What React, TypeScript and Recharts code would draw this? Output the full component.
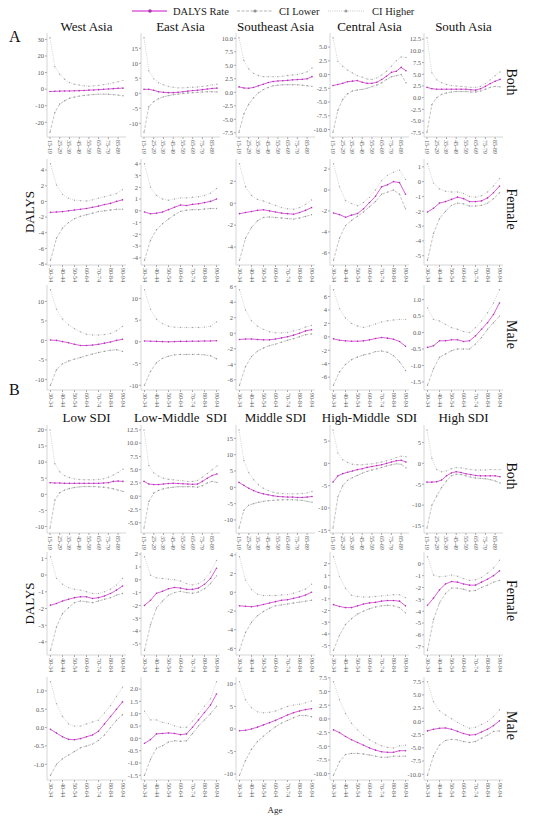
import React from 'react';
import { LineChart, Line, XAxis, YAxis } from 'recharts';

const SERIF = '"Liberation Serif", "DejaVu Serif", serif';

// ---------- categories / labels ----------
const agesBoth = ['15-19','20-24','25-29','30-34','35-39','40-44','45-49','50-54','55-59','60-64','65-69','70-74','75-79','80-84','85-89','90-94'];
const agesSex = ['30-34','35-39','40-44','45-49','50-54','55-59','60-64','65-69','70-74','75-79','80-84','85-89','90-94'];
const ticksBoth = ['15-19','25-29','35-39','45-49','55-59','65-69','75-79','85-89'];
const ticksSex = ['30-34','40-44','50-54','60-64','70-74','80-84','90-94'];

const regionTitles = ['West Asia','East Asia','Southeast Asia','Central Asia','South Asia'];
const sdiTitles = ['Low SDI','Low-Middle  SDI','Middle SDI','High-Middle  SDI','High SDI'];
const sexLabels = ['Both','Female','Male'];
const legendLabels = ['DALYS Rate','CI Lower','CI Higher'];

// ---------- A: regions, Both ----------
const westAsiaBothRate = [-1.4,-1.3,-1.2,-1.1,-1.1,-1.0,-0.9,-0.8,-0.6,-0.5,-0.3,-0.1,0.1,0.3,0.5,0.6];
const westAsiaBothLower = [-26,-14,-9,-7,-5.5,-4.8,-4.2,-3.8,-3.5,-3.2,-3.0,-3.0,-3.1,-3.3,-3.6,-4.0];
const westAsiaBothUpper = [31,13.5,9,6,4,3,2.5,2,1.8,2,2.3,2.7,3.2,3.8,4.5,5.3];
const eastAsiaBothRate = [1.3,1.3,1.0,0.5,0.3,0.2,0.2,0.3,0.5,0.7,0.9,1.0,1.2,1.4,1.6,1.7];
const eastAsiaBothLower = [-13,-4.5,-2.8,-1.8,-1.2,-0.8,-0.5,-0.3,-0.1,0.1,0.2,0.3,0.4,0.5,0.5,0.4];
const eastAsiaBothUpper = [18.5,7.5,4.8,3.5,2.8,2.3,2.0,1.8,1.8,1.9,2.0,2.1,2.3,2.5,2.8,3.0];
const seAsiaBothRate = [1.0,0.8,0.75,0.9,1.2,1.5,1.8,2.0,2.1,2.15,2.2,2.3,2.35,2.4,2.5,2.9];
const seAsiaBothLower = [-7.4,-4,-2.2,-1,-0.1,0.5,0.9,1.2,1.3,1.4,1.4,1.4,1.4,1.3,1.2,1.1];
const seAsiaBothUpper = [10.1,5.9,4.3,3.5,3.1,2.9,2.9,2.9,2.9,3.0,3.1,3.2,3.3,3.5,3.8,4.5];
const centralAsiaBothRate = [-2.0,-1.8,-1.6,-1.3,-1.2,-1.1,-1.4,-1.6,-1.6,-1.4,-0.9,-0.3,0.4,0.6,1.3,0.7];
const centralAsiaBothLower = [-10.5,-6.5,-4.5,-3.5,-3.0,-2.8,-2.7,-2.5,-2.2,-1.9,-1.5,-0.9,-0.4,-0.2,0.0,-1.5];
const centralAsiaBothUpper = [6.7,2.4,1.5,0.8,0.3,-0.2,-0.5,-0.8,-0.9,-0.6,-0.1,0.6,1.5,2.5,3.2,3.1];
const southAsiaBothRate = [2.2,1.9,1.8,1.8,1.8,1.8,1.8,1.8,1.8,1.7,1.6,1.9,2.4,3.0,3.5,3.9];
const southAsiaBothLower = [-7.4,-1.5,0,0.7,1.0,1.2,1.3,1.3,1.3,1.2,1.2,1.4,1.8,2.2,2.4,2.3];
const southAsiaBothUpper = [12.8,5.3,3.8,3.2,2.8,2.6,2.5,2.4,2.3,2.2,2.2,2.4,3.0,3.8,4.7,5.5];

// ---------- A: regions, Female ----------
const westAsiaFemaleRate = [-1.4,-1.35,-1.3,-1.2,-1.1,-1.0,-0.9,-0.75,-0.6,-0.4,-0.25,0.0,0.2];
const westAsiaFemaleLower = [-7.5,-4.7,-3.4,-2.7,-2.2,-1.9,-1.7,-1.5,-1.3,-1.2,-1.1,-1.0,-1.0];
const westAsiaFemaleUpper = [4.8,2.1,0.9,0.4,0.15,0.1,0.05,0.2,0.4,0.6,0.8,1.0,1.5];
const eastAsiaFemaleRate = [-0.1,-0.25,-0.2,-0.1,0.1,0.3,0.5,0.45,0.55,0.6,0.7,0.8,1.0];
const eastAsiaFemaleLower = [-4.2,-2.5,-1.6,-1.1,-0.7,-0.35,-0.05,0.05,0.1,0.1,0.15,0.2,0.2];
const eastAsiaFemaleUpper = [4.0,2.0,1.3,1.0,0.9,1.0,1.1,1.1,1.15,1.2,1.3,1.5,1.9];
const seAsiaFemaleRate = [-0.95,-0.85,-0.75,-0.65,-0.6,-0.7,-0.8,-0.9,-0.95,-1.0,-0.85,-0.65,-0.4];
const seAsiaFemaleLower = [-5.2,-3.2,-2.2,-1.6,-1.3,-1.25,-1.3,-1.35,-1.4,-1.45,-1.35,-1.2,-1.05];
const seAsiaFemaleUpper = [3.6,1.5,0.7,0.35,0.2,0.0,-0.2,-0.4,-0.5,-0.55,-0.4,-0.1,0.3];
const centralAsiaFemaleRate = [-2.2,-2.35,-2.6,-2.4,-2.25,-1.8,-1.2,-0.6,0.3,0.5,0.8,0.7,-0.4];
const centralAsiaFemaleLower = [-6.7,-4.6,-3.4,-2.9,-2.5,-2.1,-1.6,-1.1,-0.4,-0.2,0.0,-0.4,-1.8];
const centralAsiaFemaleUpper = [2.5,0.3,-1.0,-1.3,-1.5,-1.2,-0.7,0.0,0.9,1.4,1.7,1.9,1.0];
const southAsiaFemaleRate = [-2.05,-1.8,-1.45,-1.35,-1.2,-1.05,-1.15,-1.35,-1.35,-1.3,-1.1,-0.75,-0.3];
const southAsiaFemaleLower = [-5.3,-3.5,-2.5,-2.0,-1.6,-1.45,-1.5,-1.65,-1.65,-1.6,-1.45,-1.15,-0.75];
const southAsiaFemaleUpper = [1.2,-0.1,-0.5,-0.65,-0.7,-0.7,-0.8,-1.0,-1.05,-0.95,-0.7,-0.3,0.2];

// ---------- A: regions, Male ----------
const westAsiaMaleRate = [0.1,0.0,-0.3,-0.6,-1.0,-1.3,-1.3,-1.2,-1.0,-0.7,-0.4,0.0,0.3];
const westAsiaMaleLower = [-11.5,-7.5,-6,-5.3,-4.8,-4.4,-3.9,-3.5,-3.1,-2.8,-2.5,-2.4,-2.8];
const westAsiaMaleUpper = [13,8,5.5,4.0,3.0,2.2,1.6,1.4,1.4,1.5,1.8,2.5,3.6];
const eastAsiaMaleRate = [0.2,0.15,0.1,0.05,0.0,0.05,0.1,0.1,0.15,0.15,0.2,0.2,0.25];
const eastAsiaMaleLower = [-10,-6.8,-4.8,-3.8,-3.3,-3.0,-2.9,-2.9,-2.9,-2.9,-3.0,-3.2,-3.9];
const eastAsiaMaleUpper = [12,7.5,5.2,4.2,3.6,3.4,3.3,3.3,3.3,3.3,3.4,3.6,4.6];
const seAsiaMaleRate = [-0.8,-0.75,-0.75,-0.8,-0.85,-0.85,-0.75,-0.6,-0.45,-0.25,0.0,0.3,0.45];
const seAsiaMaleLower = [-6.7,-4.3,-3.0,-2.3,-1.9,-1.6,-1.4,-1.15,-0.9,-0.7,-0.45,-0.2,-0.1];
const seAsiaMaleUpper = [5.6,3.0,1.6,0.9,0.5,0.2,0.05,0.05,0.1,0.3,0.5,0.8,1.0];
const centralAsiaMaleRate = [-0.3,-0.5,-0.6,-0.65,-0.65,-0.6,-0.45,-0.25,-0.1,-0.2,-0.35,-0.7,-1.4];
const centralAsiaMaleLower = [-7.2,-5.2,-4.1,-3.4,-3.0,-2.7,-2.5,-2.2,-2.1,-2.3,-2.8,-3.7,-5.0];
const centralAsiaMaleUpper = [7,4.2,2.8,2.0,1.6,1.4,1.6,1.9,2.2,2.4,2.5,2.6,2.6];
const southAsiaMaleRate = [-0.45,-0.4,-0.25,-0.25,-0.22,-0.22,-0.27,-0.25,-0.1,0.1,0.3,0.55,0.9];
const southAsiaMaleLower = [-1.6,-1.1,-0.75,-0.65,-0.55,-0.5,-0.5,-0.5,-0.35,-0.15,0.1,0.3,0.5];
const southAsiaMaleUpper = [0.75,0.4,0.35,0.25,0.15,0.1,0.03,0.0,0.15,0.35,0.6,0.9,1.3];

// ---------- B: SDI, Both ----------
const lowBothRate = [3.6,3.5,3.5,3.4,3.4,3.4,3.4,3.4,3.4,3.4,3.4,3.5,3.6,4.0,4.1,4.0];
const lowBothLower = [-10.5,-1.8,0.5,1.3,1.8,2.1,2.3,2.4,2.4,2.4,2.3,2.2,2.0,1.7,1.3,0.9];
const lowBothUpper = [20,9.5,7.0,5.8,5.2,4.8,4.6,4.5,4.5,4.5,4.6,4.8,5.3,6.0,6.8,7.8];
const lowMidBothRate = [2.8,2.3,2.2,2.2,2.3,2.4,2.45,2.4,2.35,2.3,2.25,2.3,2.8,3.4,3.9,4.2];
const lowMidBothLower = [-6.0,-1.0,0.6,1.1,1.4,1.6,1.7,1.8,1.8,1.8,1.8,1.7,2.0,2.5,2.8,2.6];
const lowMidBothUpper = [12.5,5.8,4.4,3.8,3.4,3.2,3.1,3.0,2.9,2.8,2.8,3.0,3.6,4.3,5.0,5.7];
const midBothRate = [1.5,0.6,-0.3,-1.0,-1.6,-2.0,-2.3,-2.6,-2.8,-2.9,-3.0,-3.0,-3.1,-3.1,-3.0,-2.8];
const midBothLower = [-12.5,-7.0,-5.5,-5.0,-4.6,-4.3,-4.1,-4.0,-3.9,-3.8,-3.8,-3.8,-3.9,-4.0,-4.3,-4.6];
const midBothUpper = [17.6,8.2,4.5,2.3,0.8,-0.3,-1.0,-1.5,-1.8,-1.9,-2.0,-2.0,-2.0,-1.9,-1.7,-1.3];
const highMidBothRate = [-4.2,-2.8,-2.3,-2.0,-1.7,-1.4,-1.2,-0.9,-0.7,-0.5,-0.3,0.0,0.3,0.6,0.7,0.3];
const highMidBothLower = [-14.5,-7.5,-5.0,-3.8,-3.2,-2.7,-2.2,-1.8,-1.5,-1.2,-0.9,-0.6,-0.3,-0.1,-0.2,-1.0];
const highMidBothUpper = [7.5,2.3,0.8,0.2,-0.2,-0.3,-0.3,-0.2,-0.1,0.1,0.3,0.6,0.9,1.3,1.6,1.5];
const highBothRate = [-4.5,-4.5,-4.4,-4.0,-3.0,-2.3,-2.0,-2.2,-2.5,-2.7,-2.9,-3.0,-3.0,-3.0,-3.0,-3.2];
const highBothLower = [-15.5,-10,-7.8,-5.8,-4.2,-3.0,-2.6,-2.7,-3.0,-3.3,-3.5,-3.6,-3.7,-3.9,-4.2,-4.7];
const highBothUpper = [8,1.2,-1.5,-2.0,-1.8,-1.3,-1.0,-1.1,-1.3,-1.5,-1.6,-1.6,-1.6,-1.5,-1.5,-1.5];

// ---------- B: SDI, Female ----------
const lowFemaleRate = [-1.8,-1.7,-1.55,-1.45,-1.35,-1.3,-1.3,-1.4,-1.35,-1.25,-1.1,-0.9,-0.65];
const lowFemaleLower = [-4.5,-3.1,-2.3,-1.95,-1.65,-1.55,-1.6,-1.65,-1.55,-1.45,-1.35,-1.2,-1.1];
const lowFemaleUpper = [1.1,-0.2,-0.55,-0.75,-0.85,-0.9,-1.0,-1.1,-1.1,-1.0,-0.85,-0.6,-0.2];
const lowMidFemaleRate = [-2.0,-1.6,-1.05,-0.9,-0.7,-0.6,-0.65,-0.75,-0.75,-0.65,-0.35,0.1,0.9];
const lowMidFemaleLower = [-5.5,-3.5,-2.2,-1.65,-1.2,-1.0,-0.9,-1.0,-1.05,-0.95,-0.7,-0.3,0.3];
const lowMidFemaleUpper = [1.8,0.35,0.15,0.1,0.05,0.0,-0.1,-0.3,-0.4,-0.3,0.0,0.6,1.5];
const midFemaleRate = [-1.45,-1.5,-1.55,-1.45,-1.3,-1.15,-1.0,-0.85,-0.8,-0.65,-0.5,-0.3,0.0];
const midFemaleLower = [-6.2,-4.3,-3.2,-2.5,-2.05,-1.7,-1.45,-1.35,-1.25,-1.15,-1.05,-0.95,-0.85];
const midFemaleUpper = [3.8,1.3,0.3,-0.2,-0.35,-0.35,-0.35,-0.3,-0.25,-0.1,0.1,0.35,0.85];
const highMidFemaleRate = [-1.5,-1.65,-1.75,-1.75,-1.6,-1.45,-1.35,-1.3,-1.2,-1.15,-1.15,-1.2,-1.6];
const highMidFemaleLower = [-5.4,-4.1,-3.2,-2.7,-2.3,-2.05,-1.85,-1.7,-1.6,-1.55,-1.6,-1.75,-2.2];
const highMidFemaleUpper = [2.6,0.9,-0.1,-0.7,-0.8,-0.85,-0.85,-0.8,-0.75,-0.7,-0.65,-0.65,-0.9];
const highFemaleRate = [-3.5,-2.9,-2.2,-1.7,-1.5,-1.55,-1.7,-1.8,-1.8,-1.55,-1.3,-1.0,-0.6];
const highFemaleLower = [-7.3,-4.7,-3.3,-2.5,-2.05,-2.05,-2.15,-2.3,-2.25,-2.0,-1.8,-1.55,-1.4];
const highFemaleUpper = [0.6,-0.95,-1.1,-1.05,-0.95,-1.05,-1.25,-1.4,-1.35,-1.15,-0.8,-0.35,0.3];

// ---------- B: SDI, Male ----------
const lowMaleRate = [-0.05,-0.15,-0.25,-0.32,-0.33,-0.3,-0.25,-0.2,-0.1,0.1,0.3,0.5,0.7];
const lowMaleLower = [-1.3,-1.0,-0.85,-0.75,-0.65,-0.55,-0.5,-0.45,-0.35,-0.2,0.0,0.2,0.35];
const lowMaleUpper = [1.25,0.65,0.3,0.1,0.04,0.04,0.1,0.15,0.2,0.4,0.6,0.85,1.1];
const lowMidMaleRate = [-0.2,-0.05,0.18,0.2,0.22,0.2,0.15,0.18,0.45,0.75,1.05,1.35,1.8];
const lowMidMaleLower = [-1.5,-0.85,-0.4,-0.3,-0.15,-0.1,-0.12,-0.1,0.2,0.5,0.75,1.0,1.3];
const lowMidMaleUpper = [1.1,0.75,0.75,0.65,0.6,0.5,0.45,0.45,0.7,1.0,1.3,1.6,2.3];
const midMaleRate = [-0.4,-0.3,0.0,0.4,0.9,1.4,1.9,2.5,3.1,3.6,4.0,4.3,4.5];
const midMaleLower = [-10.3,-7.0,-4.5,-2.8,-1.6,-0.5,0.5,1.3,1.9,2.5,3.0,3.0,2.7];
const midMaleUpper = [10.5,6.5,4.7,3.8,3.6,3.7,4.0,4.5,5.0,5.3,5.5,5.8,6.2];
const highMidMaleRate = [-2.0,-2.5,-3.2,-3.8,-4.3,-4.8,-5.3,-5.7,-6.0,-6.1,-6.1,-5.8,-5.8];
const highMidMaleLower = [-10.3,-7.8,-6.5,-6.3,-6.3,-6.4,-6.6,-6.8,-7.0,-7.0,-6.8,-6.8,-6.8];
const highMidMaleUpper = [6.8,3.5,1.0,-0.8,-2.0,-3.0,-3.8,-4.4,-4.9,-5.2,-5.3,-4.9,-4.8];
const highMaleRate = [-1.8,-1.5,-1.3,-1.25,-1.5,-1.9,-2.3,-2.6,-2.5,-2.0,-1.5,-0.8,0.1];
const highMaleLower = [-10.2,-6.5,-4.5,-3.6,-3.4,-3.5,-3.8,-4.0,-3.8,-3.2,-2.6,-1.9,-1.8];
const highMaleUpper = [7.5,3.7,2.0,1.2,0.5,-0.2,-0.8,-1.3,-1.1,-0.6,0.0,0.9,2.2];

// ---------- y-axis tick labels ----------
const yTicksGrid: number[][][] = [
  [[30,20,10,0,-10,-20],[15,10,5,0,-5,-10],[10,7.5,5,2.5,0,-2.5,-5,-7.5],[5,2.5,0,-2.5,-5,-7.5,-10],[12.5,10,7.5,5,2.5,0,-2.5,-5,-7.5]],
  [[4,2,0,-2,-4,-6,-8],[4,3,2,1,0,-1,-2,-3,-4],[2,0,-2,-4],[2,0,-2,-4,-6],[1,0,-1,-2,-3,-4,-5]],
  [[10,5,0,-5,-10],[10,5,0,-5,-10],[6,4,2,0,-2,-4,-6],[6,4,2,0,-2,-4,-6],[1,0.5,0,-0.5,-1,-1.5]],
  [[20,15,10,5,0,-5,-10],[12.5,10,7.5,5,2.5,0,-2.5,-5],[15,10,5,0,-5,-10],[5,0,-5,-10,-15],[5,0,-5,-10,-15]],
  [[1,0,-1,-2,-3,-4],[2,1,0,-1,-2,-3,-4,-5],[4,2,0,-2,-4,-6],[2,1,0,-1,-2,-3,-4,-5],[0,-1,-2,-3,-4,-5,-6,-7]],
  [[1,0.5,0,-0.5,-1],[2,1.5,1,0.5,0,-0.5,-1,-1.5],[10,5,0,-5,-10],[7.5,5,2.5,0,-2.5,-5,-7.5,-10],[7.5,5,2.5,0,-2.5,-5,-7.5,-10]],
];

const seriesGrid: [number[], number[], number[]][][] = [
  [[westAsiaBothRate,westAsiaBothLower,westAsiaBothUpper],[eastAsiaBothRate,eastAsiaBothLower,eastAsiaBothUpper],[seAsiaBothRate,seAsiaBothLower,seAsiaBothUpper],[centralAsiaBothRate,centralAsiaBothLower,centralAsiaBothUpper],[southAsiaBothRate,southAsiaBothLower,southAsiaBothUpper]],
  [[westAsiaFemaleRate,westAsiaFemaleLower,westAsiaFemaleUpper],[eastAsiaFemaleRate,eastAsiaFemaleLower,eastAsiaFemaleUpper],[seAsiaFemaleRate,seAsiaFemaleLower,seAsiaFemaleUpper],[centralAsiaFemaleRate,centralAsiaFemaleLower,centralAsiaFemaleUpper],[southAsiaFemaleRate,southAsiaFemaleLower,southAsiaFemaleUpper]],
  [[westAsiaMaleRate,westAsiaMaleLower,westAsiaMaleUpper],[eastAsiaMaleRate,eastAsiaMaleLower,eastAsiaMaleUpper],[seAsiaMaleRate,seAsiaMaleLower,seAsiaMaleUpper],[centralAsiaMaleRate,centralAsiaMaleLower,centralAsiaMaleUpper],[southAsiaMaleRate,southAsiaMaleLower,southAsiaMaleUpper]],
  [[lowBothRate,lowBothLower,lowBothUpper],[lowMidBothRate,lowMidBothLower,lowMidBothUpper],[midBothRate,midBothLower,midBothUpper],[highMidBothRate,highMidBothLower,highMidBothUpper],[highBothRate,highBothLower,highBothUpper]],
  [[lowFemaleRate,lowFemaleLower,lowFemaleUpper],[lowMidFemaleRate,lowMidFemaleLower,lowMidFemaleUpper],[midFemaleRate,midFemaleLower,midFemaleUpper],[highMidFemaleRate,highMidFemaleLower,highMidFemaleUpper],[highFemaleRate,highFemaleLower,highFemaleUpper]],
  [[lowMaleRate,lowMaleLower,lowMaleUpper],[lowMidMaleRate,lowMidMaleLower,lowMidMaleUpper],[midMaleRate,midMaleLower,midMaleUpper],[highMidMaleRate,highMidMaleLower,highMidMaleUpper],[highMaleRate,highMaleLower,highMaleUpper]],
];

// ---------- layout ----------
const COL_LEFT = [47, 141, 236, 330, 424];
const PLOT_W = 79;
const ROW_TOP = [33, 159, 285, 425, 552, 677];
const ROW_H = [104, 106, 105, 108, 103, 103];
const YW = 26;
const MT = 3;
const MR = 2;
const XH = 26;

const RATE_COLOR = '#dc5fdc';
const RATE_DOT = '#a63ca6';
const LOWER_COLOR = '#a9a9a9';
const UPPER_COLOR = '#c2c2c2';
const BORDER = '#d6d6d6';
const TICK_TEXT = '#5a5a5a';

function AgeTick(props: any) {
  const { x, y, payload } = props;
  return (
    <text
      x={x}
      y={y}
      transform={`rotate(90, ${x}, ${y})`}
      textAnchor="start"
      dominantBaseline="central"
      fontSize={6}
      fill={TICK_TEXT}
      fontFamily={SERIF}
    >
      {payload.value}
    </text>
  );
}

function dot(color: string, r: number) {
  return { r, fill: color, stroke: 'none' } as any;
}

function Panel({ row, col }: { row: number; col: number }) {
  const [rate, lower, upper] = seriesGrid[row][col];
  const both = row % 3 === 0;
  const ages = both ? agesBoth : agesSex;
  const xTicks = both ? ticksBoth : ticksSex;
  const data = ages.map((age, i) => ({ age, rate: rate[i], lower: lower[i], upper: upper[i] }));
  const yTicks = yTicksGrid[row][col];
  const decimals = yTicks.some((t) => !Number.isInteger(t)) ? 1 : 0;
  const lo = Math.min(...lower, ...rate, ...upper);
  const hi = Math.max(...lower, ...rate, ...upper);
  const pad = (hi - lo) * 0.05;
  const domain: [number, number] = [lo - pad, hi + pad];
  const h = ROW_H[row];
  const xPad = both ? 3 : 3.5;
  return (
    <div style={{ position: 'absolute', left: COL_LEFT[col] - YW, top: ROW_TOP[row] - MT }}>
      <LineChart
        width={YW + PLOT_W + MR}
        height={MT + h + XH}
        data={data}
        margin={{ top: MT, right: MR, left: 0, bottom: 0 }}
      >
        <XAxis
          xAxisId="b"
          dataKey="age"
          ticks={xTicks}
          interval={0}
          height={XH}
          tick={<AgeTick />}
          tickSize={2}
          tickMargin={1}
          axisLine={{ stroke: BORDER }}
          tickLine={{ stroke: '#aaa' }}
          padding={{ left: xPad, right: xPad }}
        />
        <XAxis
          xAxisId="t"
          orientation="top"
          dataKey="age"
          height={0}
          tick={false}
          tickLine={false}
          axisLine={{ stroke: BORDER }}
          padding={{ left: xPad, right: xPad }}
        />
        <YAxis
          yAxisId="l"
          type="number"
          domain={domain}
          allowDataOverflow
          ticks={yTicks}
          interval={0}
          width={YW}
          tickSize={2}
          tickMargin={1}
          tickFormatter={(v: number) => v.toFixed(decimals)}
          tick={{ fontSize: 6.5, fill: TICK_TEXT, fontFamily: SERIF }}
          axisLine={{ stroke: BORDER }}
          tickLine={{ stroke: '#aaa' }}
        />
        <YAxis
          yAxisId="r"
          orientation="right"
          type="number"
          domain={domain}
          allowDataOverflow
          width={0}
          tick={false}
          tickLine={false}
          axisLine={{ stroke: BORDER }}
        />
        <Line
          xAxisId="b"
          yAxisId="l"
          dataKey="upper"
          type="linear"
          stroke={UPPER_COLOR}
          strokeWidth={0.7}
          strokeDasharray="1 1.2"
          dot={dot('#a8a8a8', 0.7)}
          isAnimationActive={false}
        />
        <Line
          xAxisId="b"
          yAxisId="l"
          dataKey="lower"
          type="linear"
          stroke={LOWER_COLOR}
          strokeWidth={0.7}
          strokeDasharray="3 1.5"
          dot={dot('#999999', 0.7)}
          isAnimationActive={false}
        />
        <Line
          xAxisId="b"
          yAxisId="l"
          dataKey="rate"
          type="linear"
          stroke={RATE_COLOR}
          strokeWidth={1}
          dot={dot(RATE_DOT, 0.8)}
          isAnimationActive={false}
        />
      </LineChart>
    </div>
  );
}

function Annotations() {
  const colCenters = COL_LEFT.map((l) => l + PLOT_W / 2);
  const rowCenters = ROW_TOP.map((t, i) => t + ROW_H[i] / 2);
  return (
    <svg width={550} height={820} style={{ position: 'absolute', left: 0, top: 0, pointerEvents: 'none' }} fontFamily={SERIF}>
      {/* legend */}
      <g>
        <line x1={132} y1={11} x2={167} y2={11} stroke={RATE_COLOR} strokeWidth={1.5} />
        <circle cx={150} cy={11} r={1.8} fill={RATE_DOT} />
        <text x={173} y={11} dominantBaseline="central" fontSize={10.5} fill="#222">{legendLabels[0]}</text>
        <line x1={237} y1={11} x2={273} y2={11} stroke={LOWER_COLOR} strokeWidth={0.9} strokeDasharray="3 1.5" />
        <circle cx={255} cy={11} r={1.6} fill="#909090" />
        <text x={279} y={11} dominantBaseline="central" fontSize={10.5} fill="#222">{legendLabels[1]}</text>
        <line x1={328} y1={11} x2={364} y2={11} stroke={UPPER_COLOR} strokeWidth={0.9} strokeDasharray="1 1.2" />
        <circle cx={346} cy={11} r={1.6} fill="#a0a0a0" />
        <text x={372} y={11} dominantBaseline="central" fontSize={10.5} fill="#222">{legendLabels[2]}</text>
      </g>
      {/* panel titles */}
      {regionTitles.map((t, i) => (
        <text key={'r' + i} x={colCenters[i]} y={26} textAnchor="middle" dominantBaseline="central" fontSize={13} fill="#111" style={{ whiteSpace: 'pre' }}>{t}</text>
      ))}
      {sdiTitles.map((t, i) => (
        <text key={'s' + i} x={colCenters[i]} y={417} textAnchor="middle" dominantBaseline="central" fontSize={13} fill="#111" style={{ whiteSpace: 'pre' }}>{t}</text>
      ))}
      {/* section letters */}
      <text x={9} y={36} dominantBaseline="central" fontSize={16} fill="#111">A</text>
      <text x={9} y={389} dominantBaseline="central" fontSize={16} fill="#111">B</text>
      {/* y title */}
      <text x={29} y={rowCenters[1]} transform={`rotate(-90, 29, ${rowCenters[1]})`} textAnchor="middle" dominantBaseline="central" fontSize={13} fill="#111">DALYS</text>
      <text x={29} y={rowCenters[4]} transform={`rotate(-90, 29, ${rowCenters[4]})`} textAnchor="middle" dominantBaseline="central" fontSize={13} fill="#111">DALYS</text>
      {/* strip labels */}
      {rowCenters.map((c, i) => (
        <text key={'st' + i} x={511} y={c - 3} transform={`rotate(90, 511, ${c - 3})`} textAnchor="middle" dominantBaseline="central" fontSize={14} fill="#111">{sexLabels[i % 3]}</text>
      ))}
      {/* x title */}
      <text x={275} y={810} textAnchor="middle" dominantBaseline="central" fontSize={9} fill="#222">Age</text>
    </svg>
  );
}

export default function App() {
  const rows = [0, 1, 2, 3, 4, 5];
  const cols = [0, 1, 2, 3, 4];
  return (
    <div style={{ position: 'absolute', left: 0, top: 0, width: 550, height: 820, background: '#fff', fontFamily: SERIF }}>
      {rows.map((r) => cols.map((c) => <Panel key={r + '-' + c} row={r} col={c} />))}
      <Annotations />
    </div>
  );
}
